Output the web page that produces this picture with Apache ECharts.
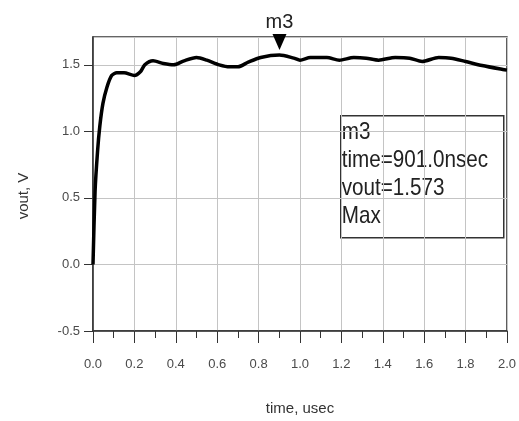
<!DOCTYPE html>
<html>
<head>
<meta charset="utf-8">
<script src="https://cdn.jsdelivr.net/npm/echarts@6.0.0/dist/echarts.min.js"></script>
<style>
  html, body { margin: 0; padding: 0; background: #fff; }
  #chart { width: 519px; height: 421px; }
</style>
</head>
<body>
<div id="chart"></div>
<script>
// transient response, time in usec
var time = [0, 0.01, 0.022, 0.033, 0.048, 0.067, 0.09, 0.115, 0.15, 0.2, 0.23, 0.25, 0.29, 0.34, 0.39, 0.44, 0.5, 0.55, 0.61, 0.66, 0.7, 0.75, 0.81, 0.901, 0.97, 1.0, 1.05, 1.13, 1.19, 1.26, 1.32, 1.38, 1.46, 1.53, 1.59, 1.67, 1.73, 1.8, 1.88, 1.98, 2.0];
var vout = [0, 0.55, 0.85, 1.04, 1.21, 1.33, 1.42, 1.44, 1.44, 1.42, 1.45, 1.50, 1.53, 1.51, 1.50, 1.53, 1.555, 1.535, 1.50, 1.485, 1.485, 1.52, 1.555, 1.573, 1.55, 1.535, 1.555, 1.555, 1.535, 1.555, 1.55, 1.535, 1.555, 1.55, 1.525, 1.555, 1.55, 1.525, 1.495, 1.465, 1.46];
var marker = { name: 'm3', time: 0.901, vout: 1.573 };
var markerLines = ['m3', 'time=901.0nsec', 'vout=1.573', 'Max'];

var font = '"Liberation Sans", Arial, sans-serif';

var chartDom = document.getElementById('chart');
var myChart = echarts.init(chartDom);

var points = time.map(function (t, i) { return [t, vout[i]]; });

var option = {
    animation: false,
    grid: {
        left: 93,
        right: 10,
        top: 37,
        bottom: 88,
        show: true,
        borderColor: '#333',
        borderWidth: 1.5
    },
    xAxis: {
        type: 'value',
        min: 0,
        max: 2,
        interval: 0.2,
        name: 'time, usec',
        nameLocation: 'middle',
        nameGap: 70,
        nameTextStyle: { fontFamily: font, fontSize: 15, color: '#333' },
        axisLine: { onZero: false, lineStyle: { color: '#333', width: 1.5 } },
        axisTick: { show: true, length: 12, lineStyle: { color: '#333' } },
        minorTick: { show: true, splitNumber: 2, length: 7, lineStyle: { color: '#333' } },
        axisLabel: {
            margin: 27,
            fontFamily: font,
            fontSize: 13,
            color: '#4a4a4a',
            formatter: function (v) { return v.toFixed(1); }
        },
        splitLine: { show: true, lineStyle: { color: '#c4c4c4', width: 1 } }
    },
    yAxis: {
        type: 'value',
        min: -0.5,
        max: 1.709,
        interval: 0.5,
        name: 'vout, V',
        nameLocation: 'middle',
        nameGap: 62,
        nameTextStyle: { fontFamily: font, fontSize: 15, color: '#333', padding: [0, 0, 0, -24] },
        axisLine: { lineStyle: { color: '#333', width: 1.5 } },
        axisTick: { show: true, length: 9, lineStyle: { color: '#333' } },
        axisLabel: {
            margin: 13,
            fontFamily: font,
            fontSize: 13,
            color: '#4a4a4a',
            showMaxLabel: false,
            formatter: function (v) { return v.toFixed(1); }
        },
        splitLine: { show: true, lineStyle: { color: '#c4c4c4', width: 1 } }
    },
    series: [{
        type: 'line',
        data: points,
        showSymbol: false,
        smooth: 0.25,
        lineStyle: { color: '#000', width: 3.5 },
        markPoint: {
            symbol: 'triangle',
            symbolRotate: 180,
            symbolSize: [14, 16],
            symbolOffset: [0, -13],
            itemStyle: { color: '#000' },
            label: {
                show: true,
                position: 'top',
                distance: 2,
                formatter: marker.name,
                fontFamily: font,
                fontSize: 20,
                color: '#222'
            },
            data: [{ coord: [marker.time, marker.vout] }]
        }
    }],
    graphic: [{
        type: 'group',
        left: 340,
        top: 115,
        children: [{
            type: 'rect',
            shape: { x: 0, y: 0, width: 163, height: 122 },
            style: { fill: '#fff', stroke: '#333', lineWidth: 1.5 }
        }, {
            type: 'text',
            x: 1,
            y: 3,
            scaleX: 0.86,
            style: {
                text: markerLines.join('\n'),
                font: '24px ' + font,
                lineHeight: 28,
                fill: '#222'
            }
        }]
    }]
};

option && myChart.setOption(option);
</script>
</body>
</html>
